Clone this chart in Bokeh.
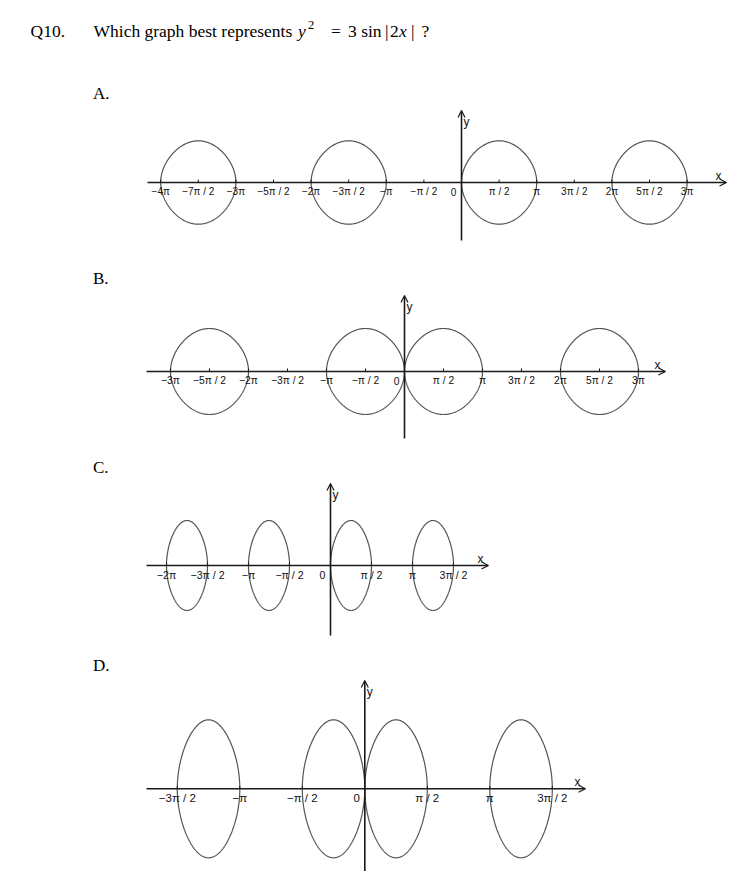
import numpy as np
from bokeh.plotting import figure
from bokeh.models import Range1d, Arrow, OpenHead
from bokeh.core.properties import value
from bokeh.embed import file_html
from bokeh.resources import INLINE

# ---------------- data ----------------
question_no = "Q10."
question_words = "Which graph best represents"
option_letters = ["A.", "B.", "C.", "D."]

curve_coef = 3.0  # every option plots y^2 = 3 * sin(...)

# tick positions are in units of pi/2
A_ticks = [-8, -7, -6, -5, -4, -3, -2, -1, 0, 1, 2, 3, 4, 5, 6]
A_tick_labels = ["−4π", "−7π / 2", "−3π", "−5π / 2", "−2π", "−3π / 2", "−π", "−π / 2",
                 "0", "π / 2", "π", "3π / 2", "2π", "5π / 2", "3π"]
A_loops = [(-8, -6), (-4, -2), (0, 2), (4, 6)]          # y^2 = 3 sin x

B_ticks = [-6, -5, -4, -3, -2, -1, 0, 1, 2, 3, 4, 5, 6]
B_tick_labels = ["−3π", "−5π / 2", "−2π", "−3π / 2", "−π", "−π / 2",
                 "0", "π / 2", "π", "3π / 2", "2π", "5π / 2", "3π"]
B_loops = [(-6, -4), (-2, 0), (0, 2), (4, 6)]           # y^2 = 3 sin|x|

C_ticks = [-4, -3, -2, -1, 0, 1, 2, 3]
C_tick_labels = ["−2π", "−3π / 2", "−π", "−π / 2", "0", "π / 2", "π", "3π / 2"]
C_loops = [(-4, -3), (-2, -1), (0, 1), (2, 3)]          # y^2 = 3 sin 2x

D_ticks = [-3, -2, -1, 0, 1, 2, 3]
D_tick_labels = ["−3π / 2", "−π", "−π / 2", "0", "π / 2", "π", "3π / 2"]
D_loops = [(-3, -2), (-1, 0), (0, 1), (2, 3)]           # y^2 = 3 sin|2x|

funcs = {
    "A": lambda x: curve_coef * np.sin(x),
    "B": lambda x: curve_coef * np.sin(np.abs(x)),
    "C": lambda x: curve_coef * np.sin(2 * x),
    "D": lambda x: curve_coef * np.sin(np.abs(2 * x)),
}
graph_data = {
    "A": (A_ticks, A_tick_labels, A_loops),
    "B": (B_ticks, B_tick_labels, B_loops),
    "C": (C_ticks, C_tick_labels, C_loops),
    "D": (D_ticks, D_tick_labels, D_loops),
}

# ---------------- layout (page pixels) ----------------
W, H = 741, 871
PX0, PY0 = 0, 0
PX1, PY1 = PX0 + W, PY0 + H

layout = {
    # origin x, origin y, px per pi, px for max y, x-axis ends, y-axis ends (bottom, top), font
    "A": dict(X0=461.0, Y0=182.0, P=75.2, amp=41.7, xa=(147, 726), ya=(240, 110), fs="10px"),
    "B": dict(X0=404.0, Y0=371.0, P=78.0, amp=43.0, xa=(146, 665), ya=(438, 295), fs="10.3px"),
    "C": dict(X0=330.0, Y0=565.0, P=82.0, amp=45.0, xa=(146, 488), ya=(635, 483), fs="10.6px"),
    "D": dict(X0=364.3, Y0=788.3, P=125.0, amp=69.0, xa=(146, 585), ya=(880, 680), fs="11.5px"),
}
letter_baselines = [92.7, 278.3, 467.3, 665.0]

AXIS_COLOR = "#1a1a1a"
CURVE_COLOR = "#555555"
SANS = value("Liberation Sans")
SERIF = value("Liberation Serif")

p = figure(width=W, height=H, output_backend="svg", toolbar_location=None,
           x_range=Range1d(PX0, PX1), y_range=Range1d(PY1, PY0),
           x_axis_type=None, y_axis_type=None, min_border=0)
p.outline_line_color = None
p.grid.visible = False
p.background_fill_color = "white"
p.border_fill_color = "white"

# ---------------- question text ----------------
title_parts = [
    (question_no, 30.0, 30.5, "17.5px", "normal"),
    (question_words, 93.0, 30.5, "17.5px", "normal"),
    ("y", 297.5, 30.5, "17.5px", "italic"),
    ("2", 307.5, 24.0, "12.5px", "normal"),
    ("=", 330.5, 30.5, "17.5px", "normal"),
    ("3 sin", 347.5, 30.5, "17.5px", "normal"),
    ("|", 384.5, 30.5, "17.5px", "normal"),
    ("2", 389.5, 30.5, "17.5px", "normal"),
    ("x", 398.5, 30.5, "17.5px", "italic"),
    ("|", 410.5, 30.5, "17.5px", "normal"),
    ("?", 421.0, 30.5, "17.5px", "normal"),
]
for txt, x, y, fs, style in title_parts:
    p.text(x=[x], y=[y], text=[txt], text_font=SERIF, text_font_size=fs,
           text_font_style=style, text_align="left", text_baseline="alphabetic",
           text_color="black")

p.text(x=[92.5] * 4, y=letter_baselines, text=option_letters, text_font=SERIF,
       text_font_size="17px", text_align="left", text_baseline="alphabetic",
       text_color="black")

# ---------------- graphs ----------------
for key in ["A", "B", "C", "D"]:
    L = layout[key]
    ticks, labels, loops = graph_data[key]
    f = funcs[key]
    ux = L["P"] / np.pi                       # px per radian
    uy = L["amp"] / np.sqrt(curve_coef)       # px per y unit
    xr, yr = key + "x", key + "y"
    p.extra_x_ranges[xr] = Range1d((PX0 - L["X0"]) / ux, (PX1 - L["X0"]) / ux)
    p.extra_y_ranges[yr] = Range1d((L["Y0"] - PY1) / uy, (L["Y0"] - PY0) / uy)

    x_left = (L["xa"][0] - L["X0"]) / ux
    x_right = (L["xa"][1] - L["X0"]) / ux
    y_bot = (L["Y0"] - L["ya"][0]) / uy
    y_top = (L["Y0"] - L["ya"][1]) / uy

    # curves
    phi = np.linspace(0, 2 * np.pi, 481)
    s = (1 - np.cos(phi)) / 2
    sign = np.where(phi <= np.pi, 1.0, -1.0)
    xs, ys = [], []
    for a, b in loops:
        xv = (a + (b - a) * s) * np.pi / 2
        yv = sign * np.sqrt(np.clip(f(xv), 0, None))
        xs.append(xv.tolist())
        ys.append(yv.tolist())
    p.multi_line(xs=xs, ys=ys, line_color=CURVE_COLOR, line_width=1.2,
                 x_range_name=xr, y_range_name=yr)

    # axes with arrows
    p.add_layout(Arrow(x_start=x_left, y_start=0, x_end=x_right, y_end=0,
                       line_color=AXIS_COLOR, line_width=1.6,
                       end=OpenHead(size=7, line_width=1.2, line_color=AXIS_COLOR),
                       x_range_name=xr, y_range_name=yr))
    p.add_layout(Arrow(x_start=0, y_start=y_bot, x_end=0, y_end=y_top,
                       line_color=AXIS_COLOR, line_width=1.6,
                       end=OpenHead(size=7, line_width=1.2, line_color=AXIS_COLOR),
                       x_range_name=xr, y_range_name=yr))

    # tick marks
    tx = [t * np.pi / 2 for t in ticks if t != 0]
    p.segment(x0=tx, y0=[0] * len(tx), x1=tx, y1=[3.0 / uy] * len(tx),
              line_color=AXIS_COLOR, line_width=1, x_range_name=xr, y_range_name=yr)

    # tick labels
    tl_x = [t * np.pi / 2 for t in ticks]
    offs = [-8 if t == 0 else 0 for t in ticks]
    p.text(x=tl_x, y=[0] * len(ticks), text=labels, x_offset=offs, y_offset=9,
           text_font=SANS, text_font_size=L["fs"], text_align="center",
           text_baseline="middle", text_color="#111111",
           x_range_name=xr, y_range_name=yr)

    # axis names
    p.text(x=[x_right], y=[0], text=["x"], x_offset=-8, y_offset=-7,
           text_font=SANS, text_font_size="12px", text_align="center",
           text_baseline="middle", text_color="#111111",
           x_range_name=xr, y_range_name=yr)
    p.text(x=[0], y=[y_top], text=["y"], x_offset=2, y_offset=11,
           text_font=SANS, text_font_size="12px", text_align="left",
           text_baseline="middle", text_color="#111111",
           x_range_name=xr, y_range_name=yr)

open("out.html", "w").write(file_html(p, INLINE))
